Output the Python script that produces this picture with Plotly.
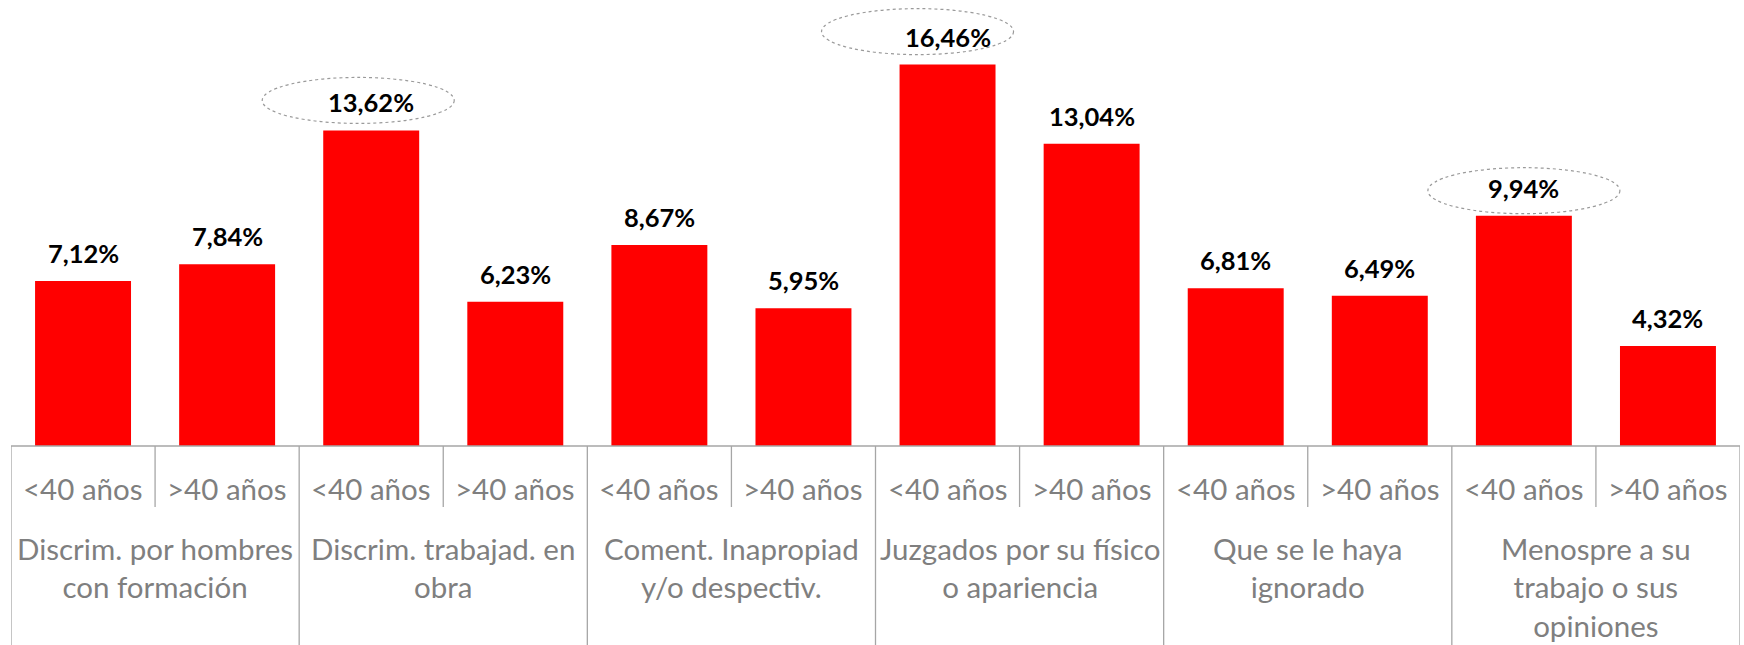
import plotly.graph_objects as go

groups = [
    "Discrim. por hombres<br>con formación",
    "Discrim. trabajad. en<br>obra",
    "Coment. Inapropiad<br>y/o despectiv.",
    "Juzgados por su físico<br>o apariencia",
    "Que se le haya<br>ignorado",
    "Menospre a su<br>trabajo o sus<br>opiniones",
]
ages = ["<40 años", ">40 años"]
values = [7.12, 7.84, 13.62, 6.23, 8.67, 5.95, 16.46, 13.04, 6.81, 6.49, 9.94, 4.32]
highlight_idx = [2, 6, 10]

# styling / placement
ellipse_dx = [-13, -30, 0]
ellipse_dy = [30, 33, 25]
RED = "#FF0000"
GRAY_TXT = "#7F7F7F"
GRAY_LINE = "#A6A6A6"
FONT = "Lato"

n = len(values)
xs = list(range(n))
labels = [f"{v:.2f}".replace(".", ",") + "%" for v in values]

fig = go.Figure()
fig.add_trace(go.Bar(x=xs, y=values, width=0.666, marker=dict(color=RED, line=dict(width=0)),
                     hoverinfo="skip"))

H = 645
plot_h = 446
px_per_unit = 23.17
ymax = plot_h / px_per_unit

def pp(pix_below):
    return -pix_below / plot_h

annotations = []
shapes = []
# value labels
for i, (v, t) in enumerate(zip(values, labels)):
    annotations.append(dict(x=i, y=v, xref="x", yref="y", text=f"<b>{t}</b>", showarrow=False,
                            yanchor="middle", yshift=28,
                            font=dict(family=FONT, size=25.5, color="#000000")))
# sub labels
for i in range(n):
    annotations.append(dict(x=i, y=0, xref="x", yref="paper", text=ages[i % 2], showarrow=False,
                            yanchor="middle", yshift=-42,
                            font=dict(family=FONT, size=29.5, color=GRAY_TXT)))
# group labels
for g, name in enumerate(groups):
    annotations.append(dict(x=2 * g + 0.5, y=0, xref="x", yref="paper", text=name, showarrow=False,
                            yanchor="top", yshift=-83, align="center",
                            font=dict(family=FONT, size=29.5, color=GRAY_TXT)))

# axis lines
shapes.append(dict(type="line", xref="x", yref="paper", x0=-0.5, x1=n - 0.5, y0=0, y1=0,
                   line=dict(color=GRAY_LINE, width=1.3)))
for g in range(len(groups) + 1):
    shapes.append(dict(type="line", xref="x", yref="paper", x0=2 * g - 0.5, x1=2 * g - 0.5,
                       y0=0, y1=pp(H - plot_h + 5), line=dict(color=GRAY_LINE, width=1.3)))
for g in range(len(groups)):
    shapes.append(dict(type="line", xref="x", yref="paper", x0=2 * g + 0.5, x1=2 * g + 0.5,
                       y0=0, y1=pp(61), line=dict(color=GRAY_LINE, width=1.3)))
# dotted ellipses
for k, i in enumerate(highlight_idx):
    dx, dy = ellipse_dx[k], ellipse_dy[k]
    shapes.append(dict(type="circle", xref="x", yref="y", xsizemode="pixel", ysizemode="pixel",
                       xanchor=i, yanchor=values[i], x0=dx - 96, x1=dx + 96, y0=dy - 23, y1=dy + 23,
                       line=dict(color="#9A9A9A", width=1.2, dash="dot")))

fig.update_layout(
    width=1744, height=H,
    margin=dict(l=11, r=4, t=0, b=H - plot_h),
    paper_bgcolor="white", plot_bgcolor="white",
    showlegend=False,
    hovermode=False,
    xaxis=dict(range=[-0.5, n - 0.5], showticklabels=False, showgrid=False, zeroline=False,
               showline=False, ticks="", fixedrange=True),
    yaxis=dict(range=[0, ymax], showticklabels=False, showgrid=False, zeroline=False,
               showline=False, ticks="", fixedrange=True),
    annotations=annotations, shapes=shapes,
)
fig.write_html("out.html", config={"displayModeBar": False, "staticPlot": True},
               post_script="document.body.style.margin='0px';document.body.style.overflow='hidden';")
